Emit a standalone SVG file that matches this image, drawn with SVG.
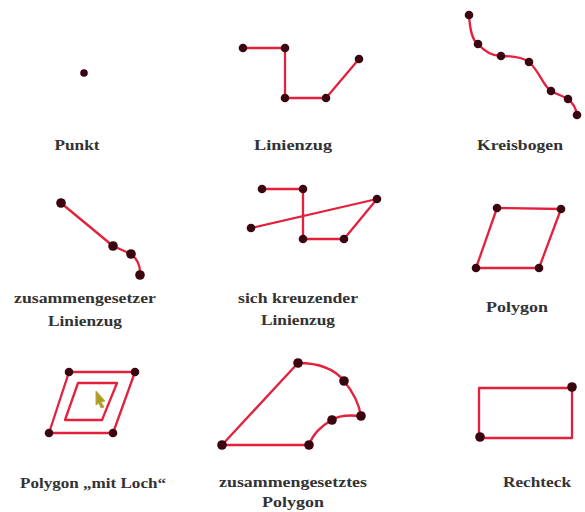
<svg xmlns="http://www.w3.org/2000/svg" width="585" height="512" viewBox="0 0 585 512">
<style>
.ln{fill:none;stroke:#e3213d;stroke-width:2.3;stroke-linejoin:round;stroke-linecap:round}
.pt{fill:#3a0510}
.lb{font-family:"Liberation Serif",serif;font-size:15px;font-weight:bold;fill:#333;text-anchor:middle}
</style>
<rect width="585" height="512" fill="#fff"/>
<g id="connectors">
<polyline class="ln" points="243,48 285,48 285,98 326,98 359,59"/>
<path class="ln" d="M469,15 C470,30 472,40 478,44 C485,52 492,56 501,56 C512,56 522,57 529,62 C540,72 543,86 551,91 C558,95 563,96 568,99 C573,103 576,108 577,115"/>
<path class="ln" d="M61,203 L113,246 L131,254 Q141,262 140,275"/>
<polyline class="ln" points="262,189 303,189 303,239 344,239 377,199 251,228"/>
<polygon class="ln" points="497,208 561,209 539,268 476,268"/>
<polygon class="ln" points="69,372 135,372 113,433 49,433"/>
<polygon class="ln" points="78,383 117,383 102,420 65,420"/>
<path class="ln" d="M222,445 L298,363 Q330,363 344,381 Q358,398 361,416 Q340,414 332,420 Q314,430 309,445 Z"/>
<rect class="ln" x="479" y="388" width="93" height="50"/>
</g>
<g id="punkt"><circle class="pt" cx="84" cy="73" r="3.8"/><text class="lb" x="77" y="150" textLength="45" lengthAdjust="spacingAndGlyphs">Punkt</text></g>
<g id="linienzug">
<circle class="pt" cx="243" cy="48" r="4.3"/><circle class="pt" cx="285" cy="48" r="4.3"/><circle class="pt" cx="285" cy="98" r="4.3"/><circle class="pt" cx="326" cy="98" r="4.3"/><circle class="pt" cx="359" cy="59" r="4.3"/>
<text class="lb" x="293" y="150" textLength="78" lengthAdjust="spacingAndGlyphs">Linienzug</text></g>
<g id="kreisbogen">
<circle class="pt" cx="469" cy="15" r="4.3"/><circle class="pt" cx="478" cy="44" r="4.3"/><circle class="pt" cx="501" cy="56" r="4.3"/><circle class="pt" cx="529" cy="62" r="4.3"/><circle class="pt" cx="551" cy="91" r="4.3"/><circle class="pt" cx="568" cy="99" r="4.3"/><circle class="pt" cx="577" cy="115" r="4.3"/>
<text class="lb" x="520" y="150" textLength="86" lengthAdjust="spacingAndGlyphs">Kreisbogen</text></g>
<g id="zus-linienzug">
<circle class="pt" cx="61" cy="203" r="4.8"/><circle class="pt" cx="113" cy="246" r="4.8"/><circle class="pt" cx="131" cy="254" r="4.8"/><circle class="pt" cx="140" cy="275" r="4.8"/>
<text class="lb" x="85" y="303" textLength="142" lengthAdjust="spacingAndGlyphs">zusammengesetzer</text><text class="lb" x="85" y="326" textLength="74" lengthAdjust="spacingAndGlyphs">Linienzug</text></g>
<g id="kreuz-linienzug">
<circle class="pt" cx="262" cy="189" r="4.3"/><circle class="pt" cx="303" cy="189" r="4.3"/><circle class="pt" cx="303" cy="239" r="4.3"/><circle class="pt" cx="344" cy="239" r="4.3"/><circle class="pt" cx="377" cy="199" r="4.3"/><circle class="pt" cx="251" cy="228" r="4.3"/>
<text class="lb" x="298" y="303" textLength="120" lengthAdjust="spacingAndGlyphs">sich kreuzender</text><text class="lb" x="298" y="325" textLength="74" lengthAdjust="spacingAndGlyphs">Linienzug</text></g>
<g id="polygon">
<circle class="pt" cx="497" cy="208" r="4.3"/><circle class="pt" cx="561" cy="209" r="4.3"/><circle class="pt" cx="539" cy="268" r="4.3"/><circle class="pt" cx="476" cy="268" r="4.3"/>
<text class="lb" x="517" y="312" textLength="62" lengthAdjust="spacingAndGlyphs">Polygon</text></g>
<g id="polygon-loch">
<circle class="pt" cx="69" cy="372" r="4.3"/><circle class="pt" cx="135" cy="372" r="4.3"/><circle class="pt" cx="113" cy="433" r="4.3"/><circle class="pt" cx="49" cy="433" r="4.3"/>
<path d="M96,391 L105,401 L101,402 L104,407 L101,408 L99,403 L96,405 Z" fill="#a8a020" stroke="#c8a040" stroke-width="1"/>
<text class="lb" x="93" y="488" textLength="146" lengthAdjust="spacingAndGlyphs">Polygon „mit Loch“</text></g>
<g id="zus-polygon">
<circle class="pt" cx="298" cy="363" r="4.8"/><circle class="pt" cx="344" cy="381" r="4.8"/><circle class="pt" cx="361" cy="416" r="4.8"/><circle class="pt" cx="332" cy="420" r="4.8"/><circle class="pt" cx="309" cy="445" r="4.8"/><circle class="pt" cx="222" cy="445" r="4.8"/>
<text class="lb" x="293" y="487" textLength="148" lengthAdjust="spacingAndGlyphs">zusammengesetztes</text><text class="lb" x="293" y="507" textLength="62" lengthAdjust="spacingAndGlyphs">Polygon</text></g>
<g id="rechteck">
<circle class="pt" cx="572" cy="387" r="4.8"/><circle class="pt" cx="480" cy="437" r="4.8"/>
<text class="lb" x="537" y="487" textLength="68" lengthAdjust="spacingAndGlyphs">Rechteck</text></g>
</svg>
